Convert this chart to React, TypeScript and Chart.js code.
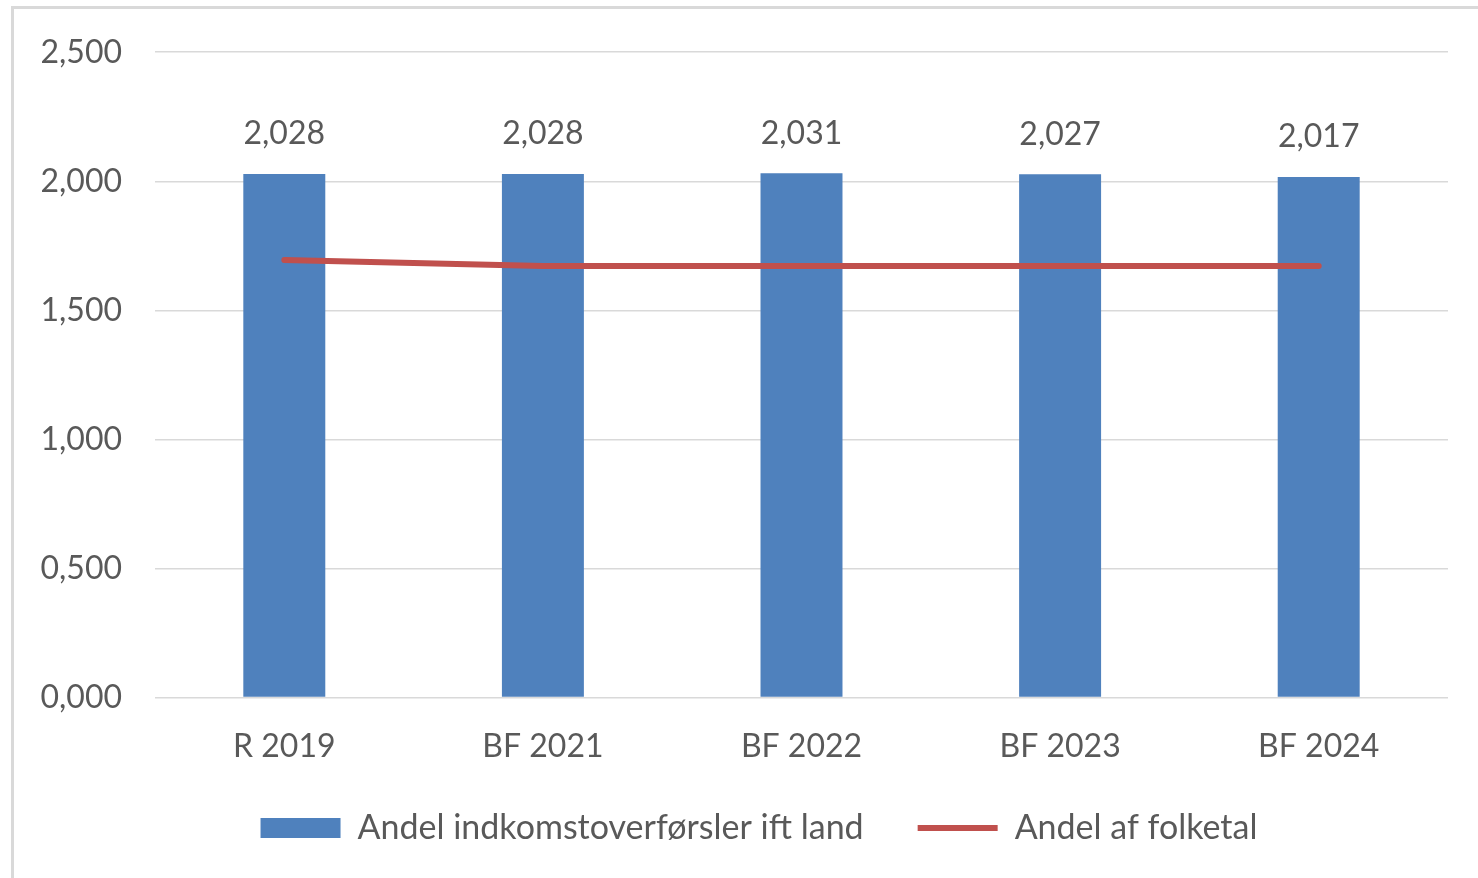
import React, { useEffect, useRef } from "react";
import { Chart, registerables } from "chart.js";

Chart.register(...registerables);

const categories = ["R 2019", "BF 2021", "BF 2022", "BF 2023", "BF 2024"];
const barValues = [2.028, 2.028, 2.031, 2.027, 2.017];
const lineValues = [1.695, 1.672, 1.672, 1.672, 1.672];
const barLabel = "Andel indkomstoverførsler ift land";
const lineLabel = "Andel af folketal";
const yTicks = { min: 0, max: 2.5, step: 0.5 };

const FONT = "Lato";
const TEXT = "#595959";
const BLUE = "#4f81bd";
const RED = "#c0504d";

const fmt = (v: number) => v.toFixed(3).replace(".", ",");

const dataLabels = {
  id: "dataLabels",
  afterLayout(chart: any) {
    if (chart.legend) {
      chart.legend.left += 35;
      chart.legend.right += 35;
    }
  },
  afterDatasetsDraw(chart: any) {
    const meta = chart.getDatasetMeta(1);
    const ctx = chart.ctx;
    ctx.save();
    ctx.fillStyle = TEXT;
    ctx.font = `32px ${FONT}`;
    ctx.textAlign = "center";
    ctx.textBaseline = "middle";
    meta.data.forEach((el: any, i: number) => {
      ctx.fillText(fmt(barValues[i]), el.x, el.y - 40);
    });
    ctx.restore();
  },
};

export default function App() {
  const ref = useRef<HTMLCanvasElement>(null);
  useEffect(() => {
    document.body.style.margin = "0";
    const chart = new Chart(ref.current!, {
      type: "bar",
      data: {
        labels: categories,
        datasets: [
          {
            type: "line",
            label: lineLabel,
            data: lineValues,
            borderColor: RED,
            backgroundColor: RED,
            borderWidth: 6,
            pointRadius: 0,
            borderCapStyle: "round",
            order: 0,
          } as any,
          {
            type: "bar",
            label: barLabel,
            data: barValues,
            backgroundColor: BLUE,
            categoryPercentage: 1,
            barPercentage: 0.317,
            order: 1,
          },
        ],
      },
      options: {
        animation: false,
        responsive: false,
        devicePixelRatio: 1,
        layout: { padding: { left: 0, right: 30, top: 51, bottom: 23 } },
        plugins: {
          tooltip: { enabled: false },
          legend: {
            position: "bottom",
            labels: {
              usePointStyle: true,
              pointStyleWidth: 80,
              boxHeight: 20,
              padding: 54,
              color: TEXT,
              font: { family: FONT, size: 34 },
              generateLabels: () => [
                {
                  text: barLabel,
                  fillStyle: BLUE,
                  strokeStyle: BLUE,
                  lineWidth: 0,
                  pointStyle: "rect",
                  fontColor: TEXT,
                  datasetIndex: 1,
                  hidden: false,
                } as any,
                {
                  text: lineLabel,
                  fillStyle: RED,
                  strokeStyle: RED,
                  lineWidth: 6,
                  pointStyle: "line",
                  fontColor: TEXT,
                  datasetIndex: 0,
                  hidden: false,
                } as any,
              ],
            },
          },
        },
        scales: {
          x: {
            afterFit: (s: any) => {
              s.height = s.height - 31;
            },
            grid: { display: false },
            border: { display: false },
            ticks: { color: TEXT, font: { family: FONT, size: 32 }, padding: 22 },
          },
          y: {
            min: yTicks.min,
            max: yTicks.max,
            afterFit: (s: any) => {
              s.width = 155;
            },
            grid: { color: "#d9d9d9", lineWidth: 1.5, drawTicks: false },
            border: { display: false },
            ticks: {
              stepSize: yTicks.step,
              padding: 33,
              color: TEXT,
              font: { family: FONT, size: 32 },
              callback: (v: any) => fmt(Number(v)),
            },
          },
        },
      },
      plugins: [dataLabels],
    });
    return () => chart.destroy();
  }, []);
  return (
    <div style={{ position: "relative", width: 1478, height: 878, overflow: "hidden", background: "#fff" }}>
      <div
        style={{
          position: "absolute",
          left: 11,
          top: 6,
          width: 1600,
          height: 1000,
          borderLeft: "3px solid #d9d9d9",
          borderTop: "3px solid #d9d9d9",
        }}
      />
      <canvas ref={ref} width={1478} height={878} style={{ position: "absolute", left: 0, top: 0 }} />
    </div>
  );
}
